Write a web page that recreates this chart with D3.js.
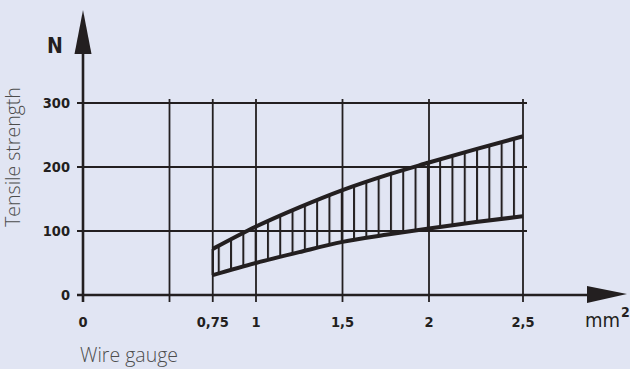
<!DOCTYPE html>
<html><head><meta charset="utf-8">
<script src="https://cdn.jsdelivr.net/npm/d3@7/dist/d3.min.js"></script>
<style>
html,body{margin:0;padding:0;background:#e1e5f3;}
svg{display:block;}
</style></head>
<body>
<svg id="c" width="630" height="369"></svg>
<script>
// ---- data ----
const gauges = [0.75, 1, 1.25, 1.5, 1.75, 2, 2.25, 2.5];
const upperN = [72, 107, 137, 164, 187, 207, 228, 248];
const lowerN = [31, 50, 67, 83, 94, 104, 114, 123];
const xGrid = [0.5, 0.75, 1, 1.5, 2, 2.5];
const xTicks = [0, 0.75, 1, 1.5, 2, 2.5];
const xTickLabels = ["0", "0,75", "1", "1,5", "2", "2,5"];
const yTicks = [0, 100, 200, 300];
const yGrid = [100, 200, 300];

const ink = "#231f20";
const svg = d3.select("#c");
const x = d3.scaleLinear().domain([0, 2, 2.5]).range([83, 429, 523]);
const y = d3.scaleLinear().domain([0, 300]).range([295, 103]);

// hatch pattern
const defs = svg.append("defs");
const pat = defs.append("pattern").attr("id","hatch").attr("patternUnits","userSpaceOnUse")
  .attr("width", 12.3).attr("height", 400).attr("x", x(0.75) + 5);
pat.append("line").attr("x1",1).attr("x2",1).attr("y1",0).attr("y2",400)
  .attr("stroke", ink).attr("stroke-width", 2);

// grid
svg.append("g").selectAll("line").data(yGrid).join("line")
  .attr("x1", 77).attr("x2", 527).attr("y1", d => y(d)).attr("y2", d => y(d))
  .attr("stroke", ink).attr("stroke-width", 1.8);
svg.append("g").selectAll("line").data(xGrid).join("line")
  .attr("x1", d => x(d)).attr("x2", d => x(d)).attr("y1", y(300) - 4).attr("y2", y(0) + 7)
  .attr("stroke", ink).attr("stroke-width", 1.8);

// band
const pts = gauges.map((g, i) => ({g, u: upperN[i], l: lowerN[i]}));
const area = d3.area().x(d => x(d.g)).y0(d => y(d.l)).y1(d => y(d.u)).curve(d3.curveMonotoneX);
svg.append("path").datum(pts).attr("d", area).attr("fill", "url(#hatch)");
const lineU = d3.line().x(d => x(d.g)).y(d => y(d.u)).curve(d3.curveMonotoneX);
const lineL = d3.line().x(d => x(d.g)).y(d => y(d.l)).curve(d3.curveMonotoneX);
svg.append("path").datum(pts).attr("d", lineU).attr("fill","none").attr("stroke", ink).attr("stroke-width", 4);
svg.append("path").datum(pts).attr("d", lineL).attr("fill","none").attr("stroke", ink).attr("stroke-width", 4);
svg.append("line").attr("x1", x(0.75)).attr("x2", x(0.75)).attr("y1", y(upperN[0])).attr("y2", y(lowerN[0]))
  .attr("stroke", ink).attr("stroke-width", 2.4);

// axes
svg.append("line").attr("x1", x(0)).attr("x2", x(0)).attr("y1", 50).attr("y2", y(0) + 7)
  .attr("stroke", ink).attr("stroke-width", 2.6);
svg.append("path").attr("d", `M${x(0)},10 L${x(0)-8.5},54 L${x(0)+8.5},54 Z`).attr("fill", ink);
svg.append("line").attr("x1", 77).attr("x2", 592).attr("y1", y(0)).attr("y2", y(0))
  .attr("stroke", ink).attr("stroke-width", 2.6);
svg.append("path").attr("d", `M627,${y(0)-1} L587,${y(0)-9} L587,${y(0)+8} Z`).attr("fill", ink);

// tick labels
const tickFont = "'DejaVu Sans Condensed','DejaVu Sans',sans-serif";
svg.append("g").selectAll("text").data(yTicks).join("text")
  .attr("x", 70).attr("y", d => y(d)).attr("dy", "0.36em").attr("text-anchor", "end")
  .attr("font-family", tickFont).attr("font-weight", "bold").attr("font-size", 14.5)
  .attr("font-stretch", "condensed").attr("fill", ink).text(d => d);
svg.append("g").selectAll("text").data(xTicks).join("text")
  .attr("x", (d, i) => x(d)).attr("y", 327).attr("text-anchor", "middle")
  .attr("font-family", tickFont).attr("font-weight", "bold").attr("font-size", 14.5)
  .attr("font-stretch", "condensed").attr("fill", ink).text((d, i) => xTickLabels[i]);

svg.append("text").attr("x", 55).attr("y", 53).attr("text-anchor", "middle")
  .attr("font-family", tickFont).attr("font-weight", "bold").attr("font-size", 21)
  .attr("font-stretch", "condensed").attr("fill", ink).text("N");
const unit = svg.append("text").attr("x", 585).attr("y", 327)
  .attr("font-family", tickFont).attr("font-size", 20).attr("font-stretch", "condensed")
  .attr("fill", ink);
unit.append("tspan").text("mm");
unit.append("tspan").attr("dx", 1).attr("dy", -10).attr("font-size", 14).attr("font-weight", "bold").text("2");

// axis titles
const titleFont = "'Open Sans',sans-serif";
svg.append("text").attr("transform", "translate(20,157) rotate(-90)").attr("text-anchor", "middle")
  .attr("font-family", titleFont).attr("font-size", 19.5).attr("font-weight", 300)
  .attr("fill", "#4d4d4d").text("Tensile strength");
svg.append("text").attr("x", 80).attr("y", 362)
  .attr("font-family", titleFont).attr("font-size", 19.5).attr("font-weight", 300)
  .attr("fill", "#4d4d4d").text("Wire gauge");
</script>
</body></html>
